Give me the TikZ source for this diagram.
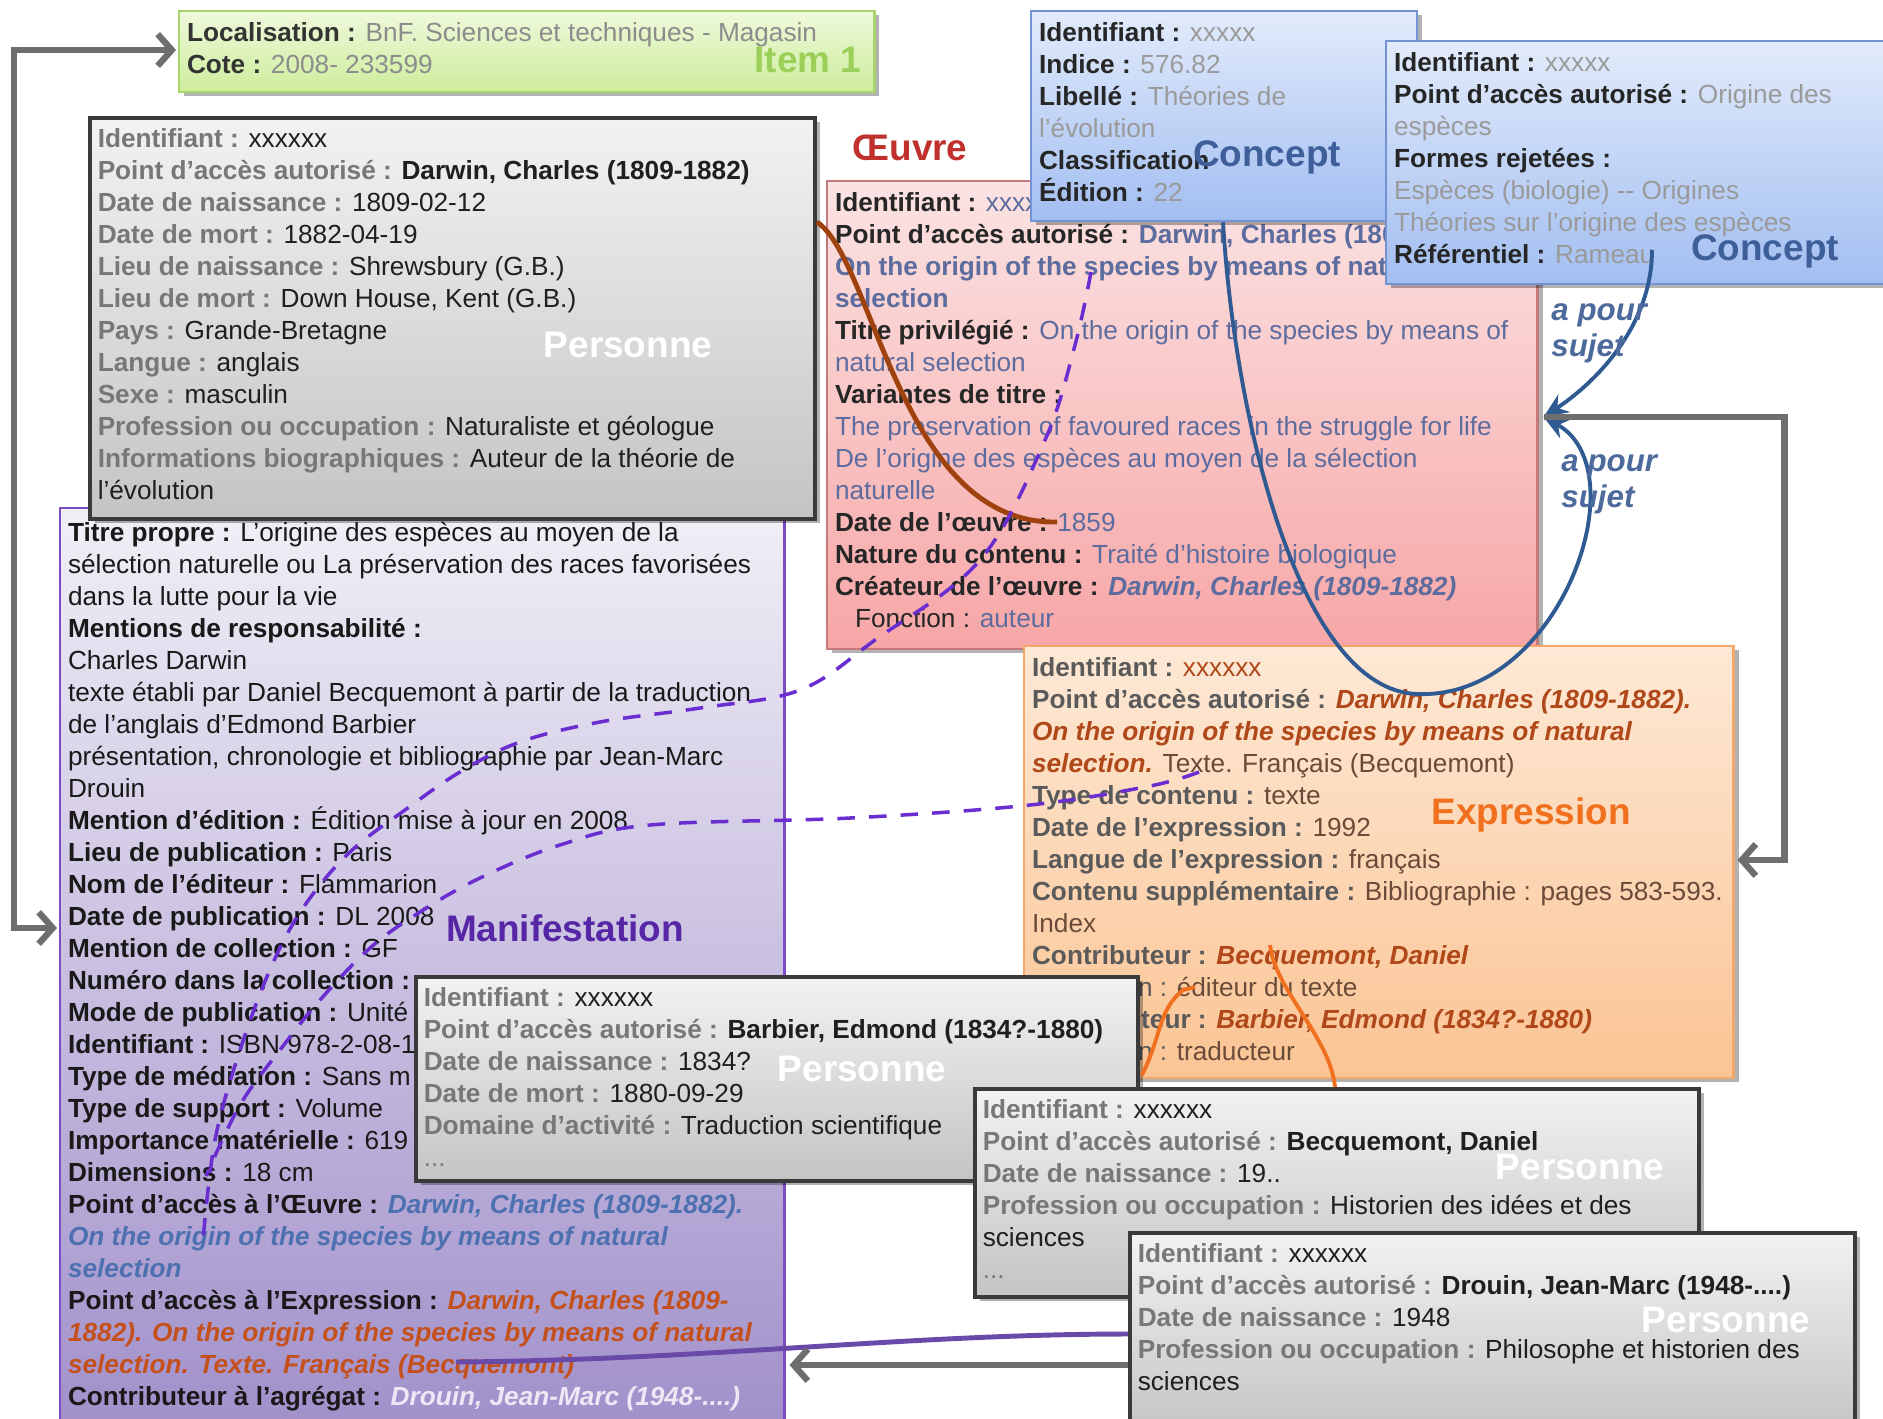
\documentclass[tikz,border=0pt]{standalone}
\usepackage{fontspec}
\setmainfont{Liberation Sans}
\usetikzlibrary{positioning, arrows.meta, calc, shadows}

\definecolor{persdraw}{HTML}{3A3A3A}
\definecolor{perstop}{HTML}{F2F2F2}
\definecolor{persbot}{HTML}{C4C4C4}
\definecolor{perslab}{HTML}{777777}
\definecolor{itemdraw}{HTML}{A8D46E}
\definecolor{itemtop}{HTML}{EEF9DC}
\definecolor{itembot}{HTML}{CDED9B}
\definecolor{itemval}{HTML}{8C8C8C}
\definecolor{itemname}{HTML}{9CCF5A}
\definecolor{oeudraw}{HTML}{C47A7A}
\definecolor{oeutop}{HTML}{FBE3E3}
\definecolor{oeubot}{HTML}{F7A6A6}
\definecolor{oeuval}{HTML}{5D6C9E}
\definecolor{oeuname}{HTML}{C0302C}
\definecolor{concdraw}{HTML}{7393D2}
\definecolor{conctop}{HTML}{E2EBFB}
\definecolor{concbot}{HTML}{A2BEF1}
\definecolor{concval}{HTML}{9A9A9A}
\definecolor{concname}{HTML}{3E5F99}
\definecolor{expdraw}{HTML}{F2A86A}
\definecolor{exptop}{HTML}{FDE9D6}
\definecolor{expbot}{HTML}{FBC494}
\definecolor{explab}{HTML}{5A5A5A}
\definecolor{expval}{HTML}{6A4A38}
\definecolor{explink}{HTML}{B0481A}
\definecolor{expname}{HTML}{F0701E}
\definecolor{mandraw}{HTML}{7B4CC6}
\definecolor{mantop}{HTML}{F1EFF6}
\definecolor{manbot}{HTML}{A08FCA}
\definecolor{manname}{HTML}{5626A6}
\definecolor{manoeu}{HTML}{4C70B0}
\definecolor{manexp}{HTML}{C4501C}
\definecolor{mandrouin}{HTML}{ECE8F6}
\definecolor{arrowgray}{HTML}{6E6E6E}
\definecolor{sujetblue}{HTML}{2F5A92}
\definecolor{sujetlab}{HTML}{4D6A9C}
\definecolor{brunlien}{HTML}{A0420E}
\definecolor{orangelien}{HTML}{F07020}
\definecolor{violien}{HTML}{6A2ED0}
\definecolor{violtrait}{HTML}{6A4AA8}

\newcommand{\fichefont}{\fontsize{7.45}{9.1}\selectfont}
\newcommand{\fiche}[3]{\parbox[t][#2][t]{#1}{\raggedright #3}}
\newcommand{\pch}[1]{{\color{perslab}\bfseries #1 :}}
\newcommand{\och}[1]{{\bfseries #1 :}}
\newcommand{\ech}[1]{{\color{explab}\bfseries #1 :}}

\begin{document}
\begin{tikzpicture}[
    x = 0.01cm,
    y = -0.01cm,
    fiche/.style = {draw, anchor=north west, inner xsep=0.08cm, inner ysep=0.11cm,
        font=\fichefont, line width=0.6pt},
    ombre/.style = {drop shadow={shadow xshift=0.05cm, shadow yshift=-0.04cm,
        opacity=0.3, fill=black}},
    persbox/.style = {fiche, ombre, draw=persdraw, top color=perstop, bottom color=persbot,
        line width=1pt, text=black!88},
    itembox/.style = {fiche, ombre, draw=itemdraw, top color=itemtop, bottom color=itembot, text=black!80},
    oeubox/.style = {fiche, ombre, draw=oeudraw, top color=oeutop, bottom color=oeubot, text=black!85},
    concbox/.style = {fiche, ombre, draw=concdraw, top color=conctop, bottom color=concbot, text=black!85},
    expbox/.style = {fiche, ombre, draw=expdraw, top color=exptop, bottom color=expbot, text=black!85},
    manbox/.style = {fiche, inner ysep=0.14cm, draw=mandraw, top color=mantop, bottom color=manbot, text=black!90},
    bigname/.style = {font=\fontsize{10.5}{12}\selectfont\bfseries},
    persname/.style = {bigname, text=white},
    sujet/.style = {text=sujetlab, align=left, font=\fontsize{8.9}{10.2}\selectfont\bfseries\itshape},
    grayarrow/.style = {draw=arrowgray, line width=1.8pt, -{Straight Barb[length=4pt,width=9pt]}},
    bluelink/.style = {draw=sujetblue, line width=1.1pt, -{Stealth[length=7pt,width=6pt]}},
    brownlink/.style = {draw=brunlien, line width=1.4pt},
    orangelink/.style = {draw=orangelien, line width=1.1pt},
    dashlink/.style = {draw=violien, line width=1pt, dash pattern=on 5pt off 4pt},
    violink/.style = {draw=violtrait, line width=1.4pt}
]

\fill[white] (0,0) rectangle (1883,1418);
\useasboundingbox (0,0) rectangle (1883,1418);

% Item
\node[itembox] (item) at (178,10) {\fiche{6.79cm}{0.59cm}{%
    {\bfseries Localisation :} {\color{itemval}BnF. Sciences et techniques - Magasin}\\
    {\bfseries Cote :} {\color{itemval}2008- 233599}}};
\node[bigname, text=itemname] (itemname) at (808,60) {Item 1};

% Manifestation
\node[manbox] (manif) at (59,507) {\fiche{7.08cm}{9.01cm}{%
    \och{Titre propre} L'origine des espèces au moyen de la\\
    sélection naturelle ou La préservation des races favorisées\\
    dans la lutte pour la vie\\
    {\bfseries Mentions de responsabilité :}\\
    Charles Darwin\\
    texte établi par Daniel Becquemont à partir de la traduction\\
    de l'anglais d'Edmond Barbier\\
    présentation, chronologie et bibliographie par Jean-Marc\\
    Drouin\\
    \och{Mention d'édition} Édition mise à jour en 2008\\
    \och{Lieu de publication} Paris\\
    \och{Nom de l'éditeur} Flammarion\\
    \och{Date de publication} DL 2008\\
    \och{Mention de collection} GF\\
    {\bfseries Numéro dans la collection :}\\
    \och{Mode de publication} Unité\\
    \och{Identifiant} ISBN 978-2-08-1\\
    \och{Type de médiation} Sans m\\
    \och{Type de support} Volume\\
    \och{Importance matérielle} 619\\
    \och{Dimensions} 18 cm\\
    \och{Point d'accès à l'Œuvre} {\color{manoeu}\bfseries\itshape Darwin, Charles (1809-1882).\\
    On the origin of the species by means of natural\\
    selection}\\
    \och{Point d'accès à l'Expression} {\color{manexp}\bfseries\itshape Darwin, Charles (1809-\\
    1882). On the origin of the species by means of natural\\
    selection. Texte. Français (Becquemont)}\\
    \och{Contributeur à l'agrégat} {\color{mandrouin}\bfseries\itshape Drouin, Jean-Marc (1948-....)}}};
\node[bigname, text=manname] (manifname) at (565,928) {Manifestation};

% Personne : Darwin
\node[persbox] (darwin) at (88,116) {\fiche{7.09cm}{3.79cm}{%
    \pch{Identifiant} xxxxxx\\
    \pch{Point d'accès autorisé} \textbf{Darwin, Charles (1809-1882)}\\
    \pch{Date de naissance} 1809-02-12\\
    \pch{Date de mort} 1882-04-19\\
    \pch{Lieu de naissance} Shrewsbury (G.B.)\\
    \pch{Lieu de mort} Down House, Kent (G.B.)\\
    \pch{Pays} Grande-Bretagne\\
    \pch{Langue} anglais\\
    \pch{Sexe} masculin\\
    \pch{Profession ou occupation} Naturaliste et géologue\\
    \pch{Informations biographiques} Auteur de la théorie de\\
    l'évolution}};
\node[persname] (darwinname) at (628,345) {Personne};

% Oeuvre
\node[bigname, text=oeuname] (oeuvrename) at (910,148) {Œuvre};
\node[oeubox] (oeuvre) at (826,180) {\fiche{6.94cm}{4.46cm}{%
    \och{Identifiant} {\color{oeuval}xxxxxx}\\
    \och{Point d'accès autorisé} {\color{oeuval}\bfseries Darwin, Charles (1809-1882).\\
    On the origin of the species by means of natural\\
    selection}\\
    \och{Titre privilégié} {\color{oeuval}On the origin of the species by means of\\
    natural selection}\\
    {\bfseries Variantes de titre :}\\
    {\color{oeuval}The preservation of favoured races in the struggle for life\\
    De l'origine des espèces au moyen de la sélection\\
    naturelle}\\
    \och{Date de l'œuvre} {\color{oeuval}1859}\\
    \och{Nature du contenu} {\color{oeuval}Traité d'histoire biologique}\\
    \och{Créateur de l'œuvre} {\color{oeuval}\bfseries\itshape Darwin, Charles (1809-1882)}\\
    \hspace*{0.2cm}Fonction : {\color{oeuval}auteur}}};

% Concepts
\node[concbox] (concept1) at (1030,10) {\fiche{3.70cm}{1.88cm}{%
    \och{Identifiant} {\color{concval}xxxxx}\\
    \och{Indice} {\color{concval}576.82}\\
    \och{Libellé} {\color{concval}Théories de\\
    l'évolution}\\
    {\bfseries Classification}\\
    \och{Édition} {\color{concval}22}}};
\node[bigname, text=concname] (concname1) at (1267,157) {Concept};

\node[concbox] (concept2) at (1385,40) {\fiche{4.89cm}{2.21cm}{%
    \och{Identifiant} {\color{concval}xxxxx}\\
    \och{Point d'accès autorisé} {\color{concval}Origine des\\
    espèces}\\
    {\bfseries Formes rejetées :}\\
    {\color{concval}Espèces (biologie) -{}- Origines\\
    Théories sur l'origine des espèces}\\
    \och{Référentiel} {\color{concval}Rameau}}};
\node[bigname, text=concname] (concname2) at (1765,251) {Concept};

% Expression
\node[expbox] (expression) at (1023,645) {\fiche{6.93cm}{4.10cm}{%
    \ech{Identifiant} {\color{explink}xxxxxx}\\
    \ech{Point d'accès autorisé} {\color{explink}\bfseries\itshape Darwin, Charles (1809-1882).\\
    On the origin of the species by means of natural\\
    selection.} {\color{expval}Texte. Français (Becquemont)}\\
    \ech{Type de contenu} {\color{expval}texte}\\
    \ech{Date de l'expression} {\color{expval}1992}\\
    \ech{Langue de l'expression} {\color{expval}français}\\
    \ech{Contenu supplémentaire} {\color{expval}Bibliographie : pages 583-593.\\
    Index}\\
    \ech{Contributeur} {\color{explink}\bfseries\itshape Becquemont, Daniel}\\
    \hspace*{0.2cm}{\color{explab}Fonction :} {\color{expval}éditeur du texte}\\
    \ech{Contributeur} {\color{explink}\bfseries\itshape Barbier, Edmond (1834?-1880)}\\
    \hspace*{0.2cm}{\color{explab}Fonction :} {\color{expval}traducteur}}};
\node[bigname, text=expname] (expname) at (1531,815) {Expression};

% Personnes : Barbier, Becquemont, Drouin
\node[persbox] (barbier) at (414,975) {\fiche{7.06cm}{1.82cm}{%
    \pch{Identifiant} xxxxxx\\
    \pch{Point d'accès autorisé} \textbf{Barbier, Edmond (1834?-1880)}\\
    \pch{Date de naissance} 1834?\\
    \pch{Date de mort} 1880-09-29\\
    \pch{Domaine d'activité} Traduction scientifique\\
    {\color{perslab}...}}};
\node[persname] (barbiername) at (862,1069) {Personne};

\node[persbox] (becq) at (973,1087) {\fiche{7.08cm}{1.86cm}{%
    \pch{Identifiant} xxxxxx\\
    \pch{Point d'accès autorisé} \textbf{Becquemont, Daniel}\\
    \pch{Date de naissance} 19..\\
    \pch{Profession ou occupation} Historien des idées et des\\
    sciences\\
    {\color{perslab}...}}};
\node[persname] (becqname) at (1580,1167) {Personne};

\node[persbox] (drouin) at (1128,1231) {\fiche{7.09cm}{1.78cm}{%
    \pch{Identifiant} xxxxxx\\
    \pch{Point d'accès autorisé} \textbf{Drouin, Jean-Marc (1948-....)}\\
    \pch{Date de naissance} 1948\\
    \pch{Profession ou occupation} Philosophe et historien des\\
    sciences}};
\node[persname] (drouinname) at (1726,1320) {Personne};

% points of attachment inside the boxes
\coordinate (oeDate) at (1057,522);
\coordinate (oeSpecies) at (1091,272);
\coordinate (exTexte) at (1199,772);
\coordinate (exBecq) at (1270,945);
\coordinate (exFonction) at (1195,987);
\coordinate (mfOeuvre) at (203,1240);
\coordinate (mfDim) at (206,1176);
\coordinate (mfExpr) at (456,1362);
\coordinate (c2Rameau) at (1652,250);
\coordinate (oeSujet) at ($(oeuvre.north east)+(5,237)$);

% Personne -> Oeuvre
\draw[brownlink] ($(darwin.north east)+(0,106)$) .. controls +(57,38) and +(-157,3) .. (oeDate);

% Manifestation -> Oeuvre / Expression
\draw[dashlink] plot[smooth, tension=0.6] coordinates {(oeSpecies) (1075,345) (1045,440)
    (980,560) (875,640) (800,690) (700,708) (600,722) (520,742) (460,772) (405,810)
    (350,852) (305,905) (272,965) (240,1050) (215,1140) (mfOeuvre)};
\draw[dashlink] plot[smooth, tension=0.6] coordinates {(exTexte) (1150,786) (1030,805)
    (850,818) (650,825) (560,845) (480,878) (420,912) (370,948) (320,1000) (280,1050)
    (240,1105) (mfDim)};

% a pour sujet
\draw[bluelink] (c2Rameau) .. controls +(0,70) and +(60,-40) .. (oeSujet);
\draw[bluelink] (concept1.south west) ++(193,0) .. controls +(12,200) and (1300,690) .. (1417,694)
    .. controls (1560,700) and (1640,470) .. (oeSujet);
\node[sujet, anchor=west] (sujet1) at (1539,333) {a pour\\sujet};
\node[sujet, anchor=west] (sujet2) at (1549,484) {a pour\\sujet};

% Expression -> Personnes
\draw[orangelink] (exBecq) .. controls +(5,45) and +(-5,-50) .. ($(becq.north west)+(362,0)$);
\draw[orangelink] (exFonction) -- ++(-12,3) .. controls +(-25,20) and +(20,-40) .. ($(barbier.north east)+(2,100)$);

% Oeuvre -> Expression, Manifestation -> Item
\draw[grayarrow] (oeSujet) -- ++(241,0) |- ($(expression.north east)+(3,215)$);
\draw[grayarrow, {Straight Barb[length=4pt,width=9pt]}-{Straight Barb[length=4pt,width=9pt]}]
    ($(manif.north west)+(-2,421)$) -- ++(-43,0) |- ($(item.north west)+(-2,40)$);

% Manifestation <- Personne Drouin
\draw[violink] ($(drouin.north west)+(0,103)$) .. controls +(-220,0) and +(250,-2) .. (mfExpr);
\draw[grayarrow] ($(drouin.north west)+(0,134)$) -- ($(manif.north east)+(4,858)$);

\end{tikzpicture}
\end{document}
